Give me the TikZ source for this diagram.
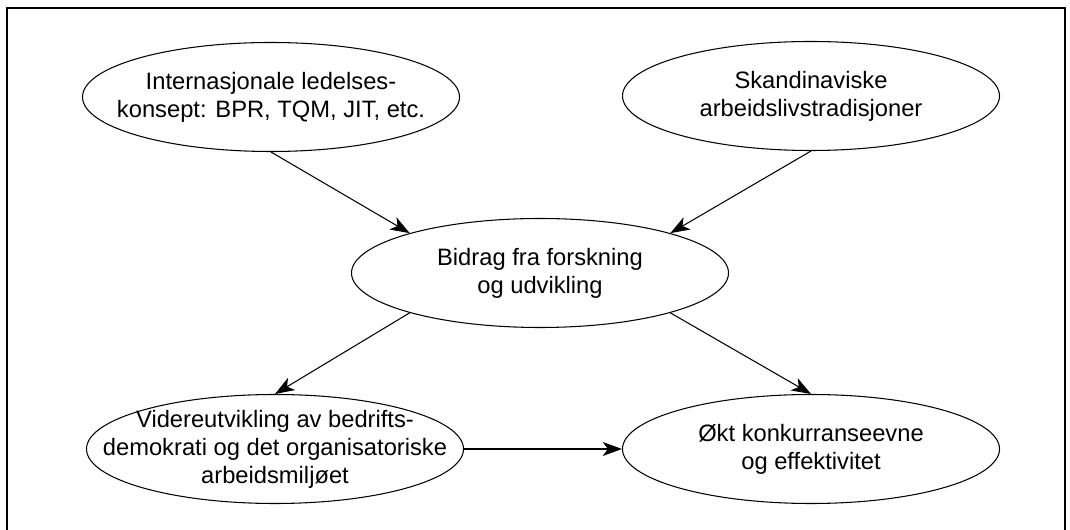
\documentclass[tikz,border=0pt]{standalone}
\usepackage{fontspec}
\setmainfont{Liberation Sans}
\usetikzlibrary{shapes.geometric,arrows.meta}

\begin{document}
\begin{tikzpicture}[>={Stealth[length=11pt,width=8pt,inset=3pt]},line width=0.6pt,
  blob/.style={ellipse,draw,minimum width=7.54cm,minimum height=2.18cm,inner sep=-1.5cm,
    align=center,font=\fontsize{13.5}{16}\selectfont}]
\useasboundingbox (0,0) rectangle (21.4,10.6);
\draw[line width=0.9pt] (0.14,0) -- (0.14,10.44) -- (21.3,10.44) -- (21.3,0);

\node[blob] (intl)   at (5.42,8.66)  {Internasjonale ledelses-\\konsept: BPR, TQM, JIT, etc.};
\node[blob] (skand)  at (16.22,8.68) {Skandinaviske\\arbeidslivstradisjoner};
\node[blob] (bidrag) at (10.8,5.14)  {Bidrag fra forskning\\og udvikling};
\node[blob] (videre) at (5.5,1.62)   {Videreutvikling av bedrifts-\\demokrati og det organisatoriske\\arbeidsmiljøet};
\node[blob] (okt)    at (16.22,1.62) {Økt konkurranseevne\\og effektivitet};

\path[->]	(intl.south)	edge	(bidrag.163)
		(skand.south)	edge	(bidrag.17)
		(bidrag.197)	edge	(videre.north)
		(bidrag.343)	edge	(okt.north)
		(videre.east)	edge	(okt.west);
\end{tikzpicture}
\end{document}
